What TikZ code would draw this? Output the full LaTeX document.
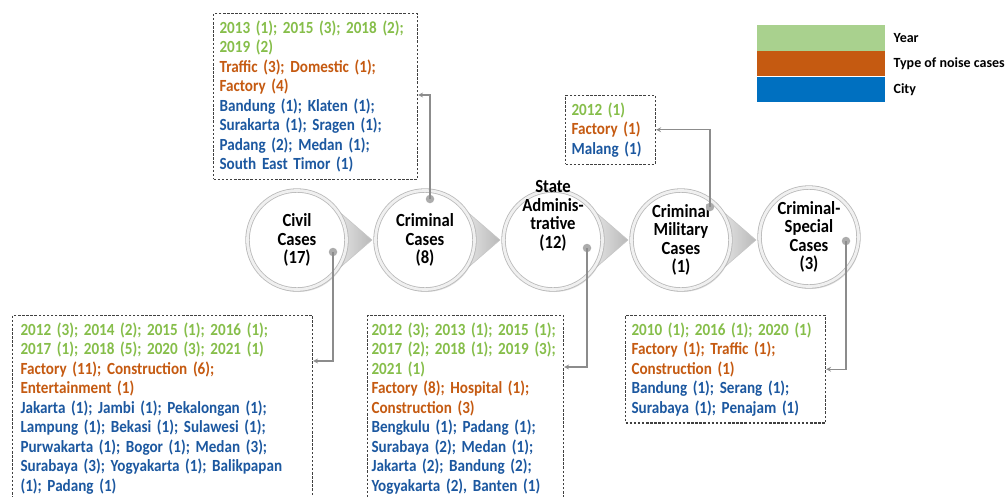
\documentclass[tikz,border=0pt]{standalone}
\usepackage{fontspec}
\setmainfont{Carlito}
\newfontfamily\boxfont{Carlito}[FakeStretch=0.89]
\newfontfamily\bubfont{Carlito}[FakeStretch=0.9]
\usetikzlibrary{arrows,positioning,shadows,backgrounds}

\definecolor{yeargreen}{RGB}{134,190,74}
\definecolor{noiseorange}{RGB}{197,90,17}
\definecolor{cityblue}{RGB}{28,88,160}
\definecolor{leggreen}{RGB}{169,209,142}
\definecolor{legorange}{RGB}{197,90,17}
\definecolor{legblue}{RGB}{0,112,192}

\newcommand{\yearTxt}[1]{\textcolor{yeargreen}{#1}}
\newcommand{\noiseTxt}[1]{\textcolor{noiseorange}{#1}}
\newcommand{\cityTxt}[1]{\textcolor{cityblue}{#1}}

\tikzset{
  bubble/.style={circle, minimum size=99pt, inner sep=0pt, fill=white,
                 draw=gray!55, line width=0.8pt, double=gray!12, double distance=2.8pt,
                 drop shadow={shadow xshift=1.5pt, shadow yshift=-2.5pt, opacity=.25}},
  bubtext/.style={align=center, inner sep=0pt, font=\bubfont\fontsize{18.5}{18.5}\selectfont\bfseries},
  pointer/.style={left color=gray!20, right color=gray!55, draw=gray!45, line width=0.6pt},
  dot/.style={circle, fill=gray!65, inner sep=0pt, minimum size=8.5pt},
  infobox/.style={draw=black!75, dash pattern=on 2.5pt off 1.6pt, line width=1.1pt,
                  anchor=north west, align=left, inner xsep=6pt, inner ysep=7pt,
                  font=\boxfont\fontsize{17}{19.5}\selectfont\bfseries},
  conn/.style={->, draw=gray!90, line width=1.2pt},
  legbar/.style={anchor=north west, minimum width=128pt, minimum height=25.3pt, inner sep=0pt},
  legtext/.style={inner sep=0pt, font=\fontsize{14}{15}\selectfont\bfseries}
}

\begin{document}
\begin{tikzpicture}[x=1pt, y=-1pt, node distance=128pt, >=stealth]
\clip (0,0) rectangle (1006,496);

% case bubbles
\node[bubble] (civ) at (297,240) {};
\node[bubble] (crim) [right of=civ] {};
\node[bubble] (state) [right of=crim] {};
\node[bubble] (mil) [right of=state] {};
\node[bubble] (spec) [right of=mil, yshift=3pt] {};

\node[bubtext] (civtxt) at (civ) {Civil\\Cases\\(17)};
\node[bubtext] (crimtxt) at (crim) {Criminal\\Cases\\(8)};
\node[bubtext] (statetxt) at ([yshift=24pt]state.center) {State\\Adminis-\\trative\\(12)};
\node[bubtext] (miltxt) at (mil) {Criminal\\Military\\Cases\\(1)};
\node[bubtext] (spectxt) at (spec) {Criminal-\\Special\\Cases\\(3)};

\begin{pgfonlayer}{background}
\fill[white] (0,0) rectangle (1006,496);
\foreach \b in {civ,crim,state,mil}
  \draw[pointer] (\b.38) -- ([xshift=25pt]\b.east) -- (\b.-38) -- cycle;
\end{pgfonlayer}

% boxes
\node[infobox, text width=192pt] (crimbox) at (213,13) {%
\yearTxt{2013 (1); 2015 (3); 2018 (2);\\2019 (2)}\\
\noiseTxt{Traffic (3); Domestic (1);\\Factory (4)}\\
\cityTxt{Bandung (1); Klaten (1);\\Surakarta (1); Sragen (1);\\Padang (2); Medan (1);\\South East Timor (1)}};

\node[infobox, text width=78pt] (milbox) at (565,95) {%
\yearTxt{2012 (1)}\\
\noiseTxt{Factory (1)}\\
\cityTxt{Malang (1)}};

\node[infobox, text width=284pt, inner xsep=8pt, text depth=185pt] (civbox) at (12,315) {%
\yearTxt{2012 (3); 2014 (2); 2015 (1); 2016 (1);\\2017 (1); 2018 (5); 2020 (3); 2021 (1)}\\
\noiseTxt{Factory (11); Construction (6);\\Entertainment (1)}\\
\cityTxt{Jakarta (1); Jambi (1); Pekalongan (1);\\Lampung (1); Bekasi (1); Sulawesi (1);\\Purwakarta (1); Bogor (1); Medan (3);\\Surabaya (3); Yogyakarta (1); Balikpapan\\(1); Padang (1)}};

\node[infobox, text width=188pt, inner xsep=4pt, text depth=185pt] (statebox) at (367,315) {%
\yearTxt{2012 (3); 2013 (1); 2015 (1);\\2017 (2); 2018 (1); 2019 (3);\\2021 (1)}\\
\noiseTxt{Factory (8); Hospital (1);\\Construction (3)}\\
\cityTxt{Bengkulu (1); Padang (1);\\Surabaya (2); Medan (1);\\Jakarta (2); Bandung (2);\\Yogyakarta (2), Banten (1)}};

\node[infobox, text width=188pt] (specbox) at (625,315) {%
\yearTxt{2010 (1); 2016 (1); 2020 (1)}\\
\noiseTxt{Factory (1); Traffic (1);\\Construction (1)}\\
\cityTxt{Bandung (1); Serang (1);\\Surabaya (1); Penajam (1)}};

% dots and leaders
\node[dot] (civdot) at (333,252) {};
\node[dot] (crimdot) at (430,199) {};
\node[dot] (statedot) at (587,248) {};
\node[dot] (mildot) at (710,207) {};
\node[dot] (specdot) at (846,241) {};

\draw[conn] (civdot.center) |- ([yshift=-46pt]civbox.north east);
\draw[conn] (crimdot.center) |- ([yshift=-82pt]crimbox.north east);
\draw[conn] (statedot.center) |- ([yshift=-52pt]statebox.north east);
\draw[conn] (mildot.center) |- (milbox.east);
\draw[conn] (specdot.center) |- (specbox.east);

% legend
\node[legbar, fill=leggreen] (lgyear) at (757,25) {};
\node[legbar, fill=legorange, below=0pt of lgyear] (lgnoise) {};
\node[legbar, fill=legblue, below=0pt of lgnoise] (lgcity) {};
\node[legtext, right=8pt of lgyear] (lbyear) {Year};
\node[legtext, right=8pt of lgnoise] (lbnoise) {Type of noise cases};
\node[legtext, right=8pt of lgcity] (lbcity) {City};
\end{tikzpicture}
\end{document}
